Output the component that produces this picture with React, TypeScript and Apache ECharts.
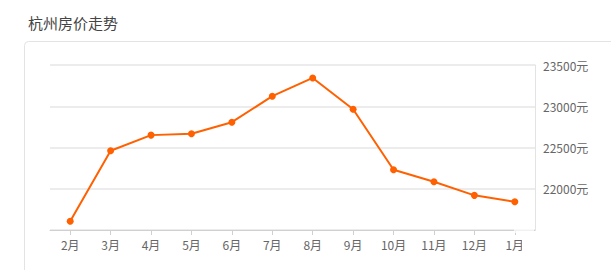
import React, { useEffect, useRef } from "react";
import * as echarts from "echarts";

const titleText = "杭州房价走势";
const months = ["2月", "3月", "4月", "5月", "6月", "7月", "8月", "9月", "10月", "11月", "12月", "1月"];
const prices = [21605, 22460, 22650, 22666, 22807, 23122, 23343, 22964, 22230, 22084, 21920, 21842];
const yMin = 21500;
const yMax = 23500;
const yStep = 500;

export default function App() {
  const ref = useRef<HTMLDivElement>(null);
  useEffect(() => {
    if (!ref.current) return;
    const chart = echarts.init(ref.current, null, { renderer: "svg" });
    chart.setOption({
      animation: false,
      backgroundColor: "#fff",
      title: {
        text: titleText,
        left: 23,
        top: 10,
        textStyle: { fontSize: 15, fontWeight: "normal", color: "#444", fontFamily: "Noto Sans CJK SC" },
      },
      graphic: [
        {
          type: "rect",
          shape: { x: 24.5, y: 41.5, width: 620, height: 260, r: 4 },
          style: { fill: "none", stroke: "#e3e3e3", lineWidth: 1 },
          z: 0,
        },
        {
          type: "rect",
          shape: { x: 522, y: 233, width: 12, height: 22 },
          style: { fill: "#fff" },
          z: 100,
        },
        {
          type: "rect",
          shape: { x: 514, y: 228, width: 20, height: 5 },
          style: { fill: "rgba(255,255,255,0.7)" },
          z: 100,
        },
      ],
      grid: { left: 50, right: 76, top: 65, bottom: 40 },
      xAxis: {
        type: "category",
        data: months,
        boundaryGap: true,
        axisLine: { show: true, lineStyle: { color: "#d0d0d0", width: 1 } },
        axisTick: { show: true, alignWithLabel: true, length: 5, lineStyle: { color: "#d0d0d0" } },
        axisLabel: { color: "#666", fontSize: 12, margin: 8, fontFamily: "Noto Sans CJK SC" },
        splitLine: { show: false },
      },
      yAxis: {
        type: "value",
        position: "right",
        min: yMin,
        max: yMax,
        interval: yStep,
        axisLine: { show: true, lineStyle: { color: "#e3e3e3" } },
        axisTick: { show: false },
        axisLabel: {
          showMinLabel: false,
          color: "#666",
          fontSize: 12,
          margin: 8,
          fontFamily: "Noto Sans CJK SC",
          formatter: (v: number) => v + "元",
        },
        splitLine: { show: true, lineStyle: { color: "#e6e6e6", width: 1.5 } },
      },
      series: [
        {
          type: "line",
          data: prices,
          symbol: "circle",
          symbolSize: 7,
          lineStyle: { color: "#ff6000", width: 2 },
          itemStyle: { color: "#ff6000" },
        },
      ],
    });
    return () => chart.dispose();
  }, []);
  return <div ref={ref} style={{ position: "fixed", left: 0, top: 0, width: 611, height: 270 }} />;
}
